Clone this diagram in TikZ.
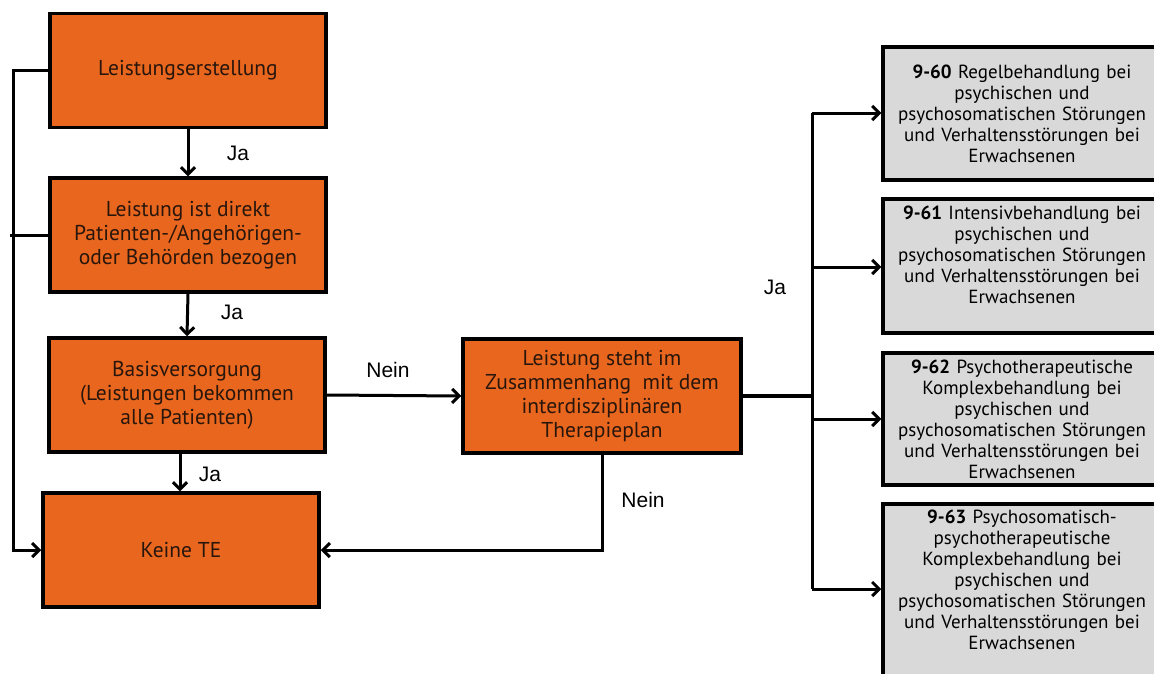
\documentclass[tikz,border=0pt]{standalone}
\usepackage{fontspec}
\setmainfont{PT Sans}
\newfontfamily\labelfont{Liberation Sans}
\usetikzlibrary{arrows.meta}
\definecolor{boxorange}{RGB}{232,102,30}
\definecolor{boxgrey}{RGB}{217,217,217}
\definecolor{boxtext}{RGB}{40,22,12}
\tikzset{
  x=1pt, y=-1pt,
  stepbox/.style={draw=black, line width=3.5pt, fill=boxorange, text=boxtext,
    minimum width=276pt, minimum height=114pt, align=center,
    font=\fontsize{21.5}{24}\selectfont, inner sep=0pt},
  codebox/.style={draw=black, line width=3.5pt, fill=boxgrey,
    minimum width=278pt, inner sep=0pt},
  codetext/.style={align=center, text width=276pt, inner sep=0pt,
    font=\fontsize{19}{21}\selectfont, text=black},
  link/.style={line width=3pt, -{Straight Barb[length=7pt,width=14pt,line width=3pt]}},
  plain/.style={line width=3pt},
  answer/.style={font=\labelfont\fontsize{21}{24}\selectfont, inner sep=0pt},
}
\begin{document}
\begin{tikzpicture}
\clip (0,0) rectangle (1154,673);
\fill[white] (0,0) rectangle (1154,673);

% left decision column
\node[stepbox] (b1) at (188,70.5) {Leistungserstellung};
\node[stepbox] (b2) at (188,235) {Leistung ist direkt\\Patienten-/Angehörigen-\\oder Behörden bezogen};
\node[stepbox] (b3) at (187,395) {Basisversorgung\\(Leistungen bekommen\\alle Patienten)};
\node[stepbox] (b4) at (181,550) {Keine TE};
\node[stepbox, minimum width=278pt] (b5) at (602,396) {Leistung steht im\\Zusammenhang~ mit dem\\interdisziplinären\\Therapieplan};

% treatment code boxes
\node[codebox, minimum height=133pt] (g1) at (1022,113.5) {};
\node[codebox, minimum height=134pt] (g2) at (1022,266) {};
\node[codebox, minimum height=132pt] (g3) at (1022,419) {};
\node[codebox, minimum height=200pt] (g4) at (1022,604) {};

\node[codetext] (t1) at (1022,114) {\textbf{9-60} Regelbehandlung bei\\psychischen und\\psychosomatischen Störungen\\und Verhaltensstörungen bei\\Erwachsenen};
\node[codetext] (t2) at (1022,255) {\textbf{9-61} Intensivbehandlung bei\\psychischen und\\psychosomatischen Störungen\\und Verhaltensstörungen bei\\Erwachsenen};
\node[codetext] (t3) at (1022,419) {\textbf{9-62} Psychotherapeutische\\Komplexbehandlung bei\\psychischen und\\psychosomatischen Störungen\\und Verhaltensstörungen bei\\Erwachsenen};
\node[codetext] (t4) at (1022,580) {\textbf{9-63} Psychosomatisch-\\psychotherapeutische\\Komplexbehandlung bei\\psychischen und\\psychosomatischen Störungen\\und Verhaltensstörungen bei\\Erwachsenen};

% bypass line on the left
\coordinate (L) at (13,0);
\coordinate (L2) at (10,235);
\draw[link] (b1.west) -- (b1.west -| L) |- (b4.west);
\draw[plain] (b2.west) -- (L2);

% main flow
\draw[link] (b1.south) -- (b2.north);
\draw[link] (b2.south) -- (b3.north);
\draw[link] ([xshift=-7pt]b3.south) -- ([xshift=-1pt]b4.north);
\draw[link] (b3.east) -- (b5.west);
\draw[link] (b5.south) |- (b4.east);

% fan-out to the code boxes
\coordinate (bus) at (812,396);
\coordinate (j1) at (812,113);
\coordinate (j2) at (812,267);
\coordinate (j3) at (812,419);
\coordinate (j4) at (812,589);
\draw[line width=4pt] (b5.east) -- (bus);
\draw[plain] (j1) -- (j4);
\draw[link] (j1) -- (j1 -| g1.west);
\draw[link] (j2) -- (j2 -| g2.west);
\draw[link] (j3) -- (j3 -| g3.west);
\draw[link] (j4) -- (j4 -| g4.west);

% answer labels
\node[answer] (a1) at (238,153) {Ja};
\node[answer] (a2) at (232,312) {Ja};
\node[answer] (a3) at (210,474) {Ja};
\node[answer] (a4) at (775,287) {Ja};
\node[answer] (n1) at (388,370) {Nein};
\node[answer] (n2) at (643,500) {Nein};
\end{tikzpicture}
\end{document}
